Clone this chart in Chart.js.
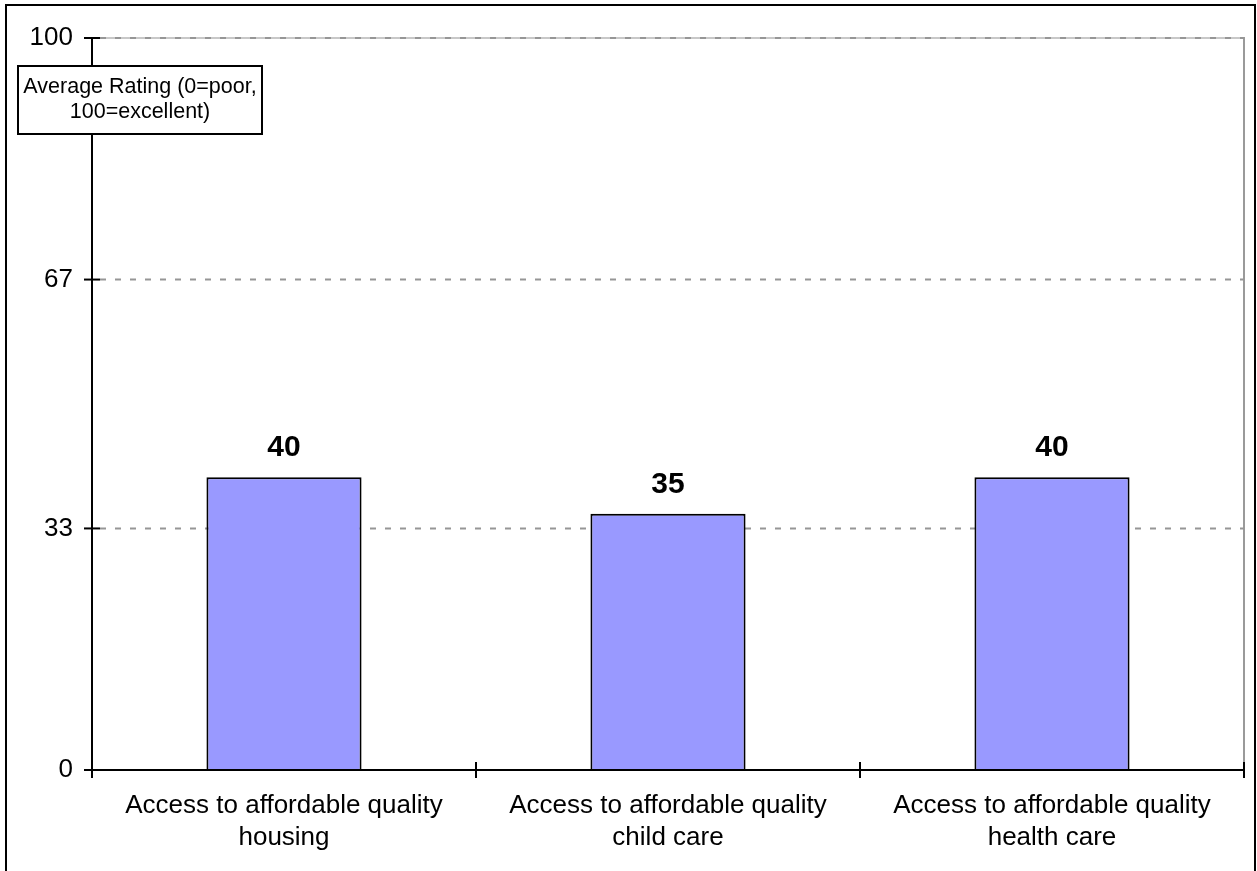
<!DOCTYPE html>
<html><head><meta charset="utf-8">
<script src="https://cdn.jsdelivr.net/npm/chart.js@4/dist/chart.umd.min.js"></script>
<style>html,body{margin:0;padding:0;background:#fff;overflow:hidden}#wrap{position:relative;width:1257px;height:871px}</style>
</head><body><div id="wrap"><canvas id="c" width="1257" height="871"></canvas></div>
<script>
const categories = [
  ['Access to affordable quality', 'housing'],
  ['Access to affordable quality', 'child care'],
  ['Access to affordable quality', 'health care']
];
const ratings = [40, 35, 40];
const yTicks = [0, 33, 67, 100];
const noteLines = ['Average Rating (0=poor,', '100=excellent)'];

const FONT = 'Arial, "Liberation Sans", sans-serif';

const decor = {
  id: 'decor',
  beforeDraw(chart) {
    const ctx = chart.ctx;
    ctx.save();
    ctx.fillStyle = '#ffffff';
    ctx.fillRect(0, 0, chart.width, chart.height);
    ctx.restore();
  },
  beforeDatasetsDraw(chart) {
    const {ctx, chartArea: a, scales: {y}} = chart;
    ctx.save();
    ctx.lineWidth = 2;
    ctx.strokeStyle = '#c8c8c8';
    const yTop = y.getPixelForValue(100);
    ctx.beginPath(); ctx.moveTo(a.left, yTop); ctx.lineTo(a.right, yTop); ctx.stroke();
    ctx.strokeStyle = '#9a9a9a';
    ctx.beginPath(); ctx.moveTo(a.right, yTop - 1); ctx.lineTo(a.right, a.bottom); ctx.stroke();
    ctx.strokeStyle = '#969696';
    ctx.setLineDash([6, 9]);
    yTicks.forEach(v => {
      if (v === 0) return;
      const py = y.getPixelForValue(v);
      ctx.beginPath(); ctx.moveTo(a.left + 8, py); ctx.lineTo(a.right, py); ctx.stroke();
    });
    ctx.restore();
  },
  afterDatasetsDraw(chart) {
    const {ctx, chartArea: a, scales: {x, y}} = chart;
    ctx.save();
    ctx.strokeStyle = '#000';
    ctx.lineWidth = 2;
    ctx.beginPath(); ctx.moveTo(a.left, y.getPixelForValue(100)); ctx.lineTo(a.left, a.bottom + 1); ctx.stroke();
    ctx.beginPath(); ctx.moveTo(a.left, a.bottom); ctx.lineTo(a.right, a.bottom); ctx.stroke();
    yTicks.forEach(v => {
      const py = y.getPixelForValue(v);
      ctx.beginPath(); ctx.moveTo(a.left - 8, py); ctx.lineTo(a.left + 8, py); ctx.stroke();
    });
    const n = categories.length;
    const half = (x.getPixelForValue(1) - x.getPixelForValue(0)) / 2;
    for (let i = 0; i <= n; i++) {
      const px = i < n ? x.getPixelForValue(i) - half : x.getPixelForValue(n - 1) + half;
      ctx.beginPath(); ctx.moveTo(px, a.bottom - 8); ctx.lineTo(px, a.bottom + 8); ctx.stroke();
    }
    const meta = chart.getDatasetMeta(0);
    ctx.fillStyle = '#000';
    ctx.font = 'bold 30px ' + FONT;
    ctx.textAlign = 'center';
    ctx.textBaseline = 'alphabetic';
    meta.data.forEach((el, i) => {
      ctx.fillText(String(ratings[i]), el.x, el.y - 21);
    });
    ctx.fillStyle = '#fff';
    ctx.fillRect(18, 66, 244, 68);
    ctx.strokeRect(18, 66, 244, 68);
    ctx.fillStyle = '#000';
    ctx.font = '21.5px ' + FONT;
    ctx.fillText(noteLines[0], 140, 93);
    ctx.fillText(noteLines[1], 140, 118);
    ctx.restore();
  },
  afterDraw(chart) {
    const ctx = chart.ctx;
    ctx.save();
    ctx.strokeStyle = '#000';
    ctx.lineWidth = 2;
    ctx.strokeRect(6, 5, 1249, 880);
    ctx.restore();
  }
};

new Chart(document.getElementById('c'), {
  type: 'bar',
  data: {
    labels: categories,
    datasets: [{
      data: ratings,
      backgroundColor: '#9999FF',
      borderColor: '#000000',
      borderWidth: 2,
      borderSkipped: 'start',
      barPercentage: 0.404,
      categoryPercentage: 1.0
    }]
  },
  options: {
    responsive: false,
    devicePixelRatio: 1,
    animation: false,
    events: [],
    layout: { padding: { left: 0, right: 13, top: 38, bottom: 0 } },
    plugins: { legend: { display: false }, tooltip: { enabled: false }, title: { display: false } },
    scales: {
      x: {
        type: 'category',
        offset: true,
        grid: { display: false, drawTicks: false },
        border: { display: false },
        ticks: { color: '#000', font: { family: FONT, size: 26, lineHeight: 1.23 }, padding: 20, maxRotation: 0, minRotation: 0, autoSkip: false },
        afterFit: s => { s.height = 101; }
      },
      y: {
        type: 'linear',
        min: 0, max: 100,
        afterBuildTicks: s => { s.ticks = yTicks.map(v => ({ value: v })); },
        grid: { display: false, drawTicks: false },
        border: { display: false },
        ticks: { color: '#000', font: { family: FONT, size: 26 }, padding: 19 },
        afterFit: s => { s.width = 92; }
      }
    }
  },
  plugins: [decor]
});
</script>
</body></html>
